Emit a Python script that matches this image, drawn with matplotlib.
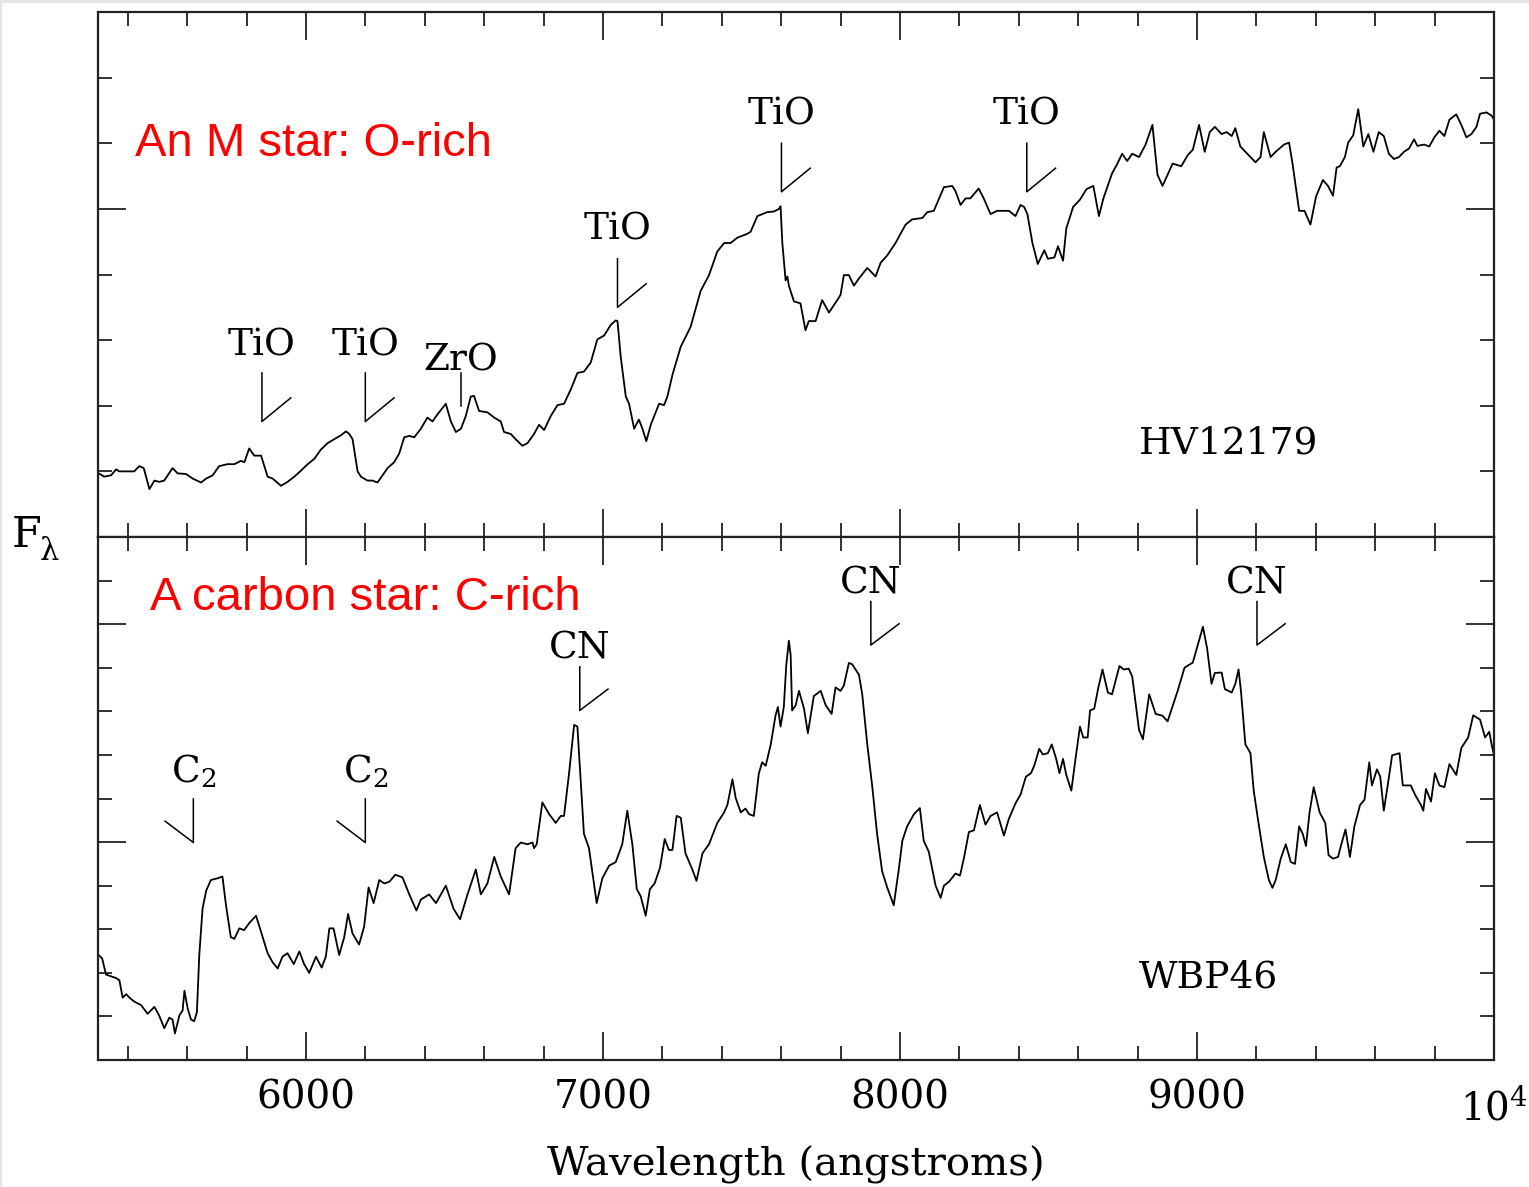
import matplotlib
matplotlib.use("Agg")
import matplotlib.pyplot as plt
from matplotlib.ticker import MultipleLocator, FixedLocator, FixedFormatter
from matplotlib.patches import Rectangle

plt.rcParams["font.family"] = "DejaVu Serif"
plt.rcParams["mathtext.fontset"] = "dejavuserif"

# --- HV12179 (M star), wavelength in angstroms, relative flux ---
m_wave = [5302, 5321, 5344, 5361, 5372, 5422, 5439, 5454, 5473, 5490, 5506, 5523,
          5551, 5568, 5596, 5619, 5647, 5664, 5686, 5708, 5736, 5759, 5781, 5793,
          5809, 5826, 5849, 5871, 5888, 5916, 5938, 5961, 5983, 6006, 6028, 6050,
          6073, 6095, 6118, 6135, 6146, 6157, 6174, 6185, 6207, 6224, 6241, 6258,
          6275, 6297, 6314, 6331, 6348, 6365, 6387, 6409, 6426, 6443, 6471, 6488,
          6505, 6522, 6538, 6555, 6566, 6583, 6611, 6634, 6656, 6667, 6690, 6706,
          6729, 6746, 6768, 6785, 6802, 6824, 6847, 6869, 6892, 6914, 6936, 6959,
          6981, 7004, 7026, 7043, 7049, 7060, 7077, 7088, 7105, 7121, 7133, 7146,
          7161, 7189, 7206, 7217, 7234, 7262, 7295, 7329, 7357, 7385, 7408, 7430,
          7452, 7486, 7497, 7520, 7553, 7576, 7593, 7598, 7604, 7615, 7621, 7626,
          7643, 7665, 7682, 7693, 7716, 7738, 7761, 7789, 7800, 7811, 7828, 7845,
          7862, 7890, 7918, 7935, 7957, 7985, 8019, 8041, 8075, 8092, 8114, 8148,
          8176, 8187, 8204, 8221, 8237, 8265, 8282, 8305, 8327, 8367, 8389, 8406,
          8418, 8429, 8446, 8464, 8486, 8498, 8520, 8532, 8549, 8560, 8583, 8606,
          8628, 8651, 8670, 8685, 8714, 8731, 8748, 8765, 8782, 8805, 8827, 8850,
          8867, 8884, 8918, 8947, 8969, 8986, 9007, 9026, 9043, 9060, 9083, 9100,
          9117, 9129, 9146, 9180, 9197, 9214, 9225, 9248, 9265, 9293, 9310, 9322,
          9344, 9362, 9382, 9401, 9424, 9441, 9458, 9470, 9481, 9498, 9509, 9526,
          9543, 9560, 9577, 9594, 9612, 9629, 9646, 9663, 9680, 9697, 9714, 9731,
          9742, 9765, 9782, 9799, 9816, 9833, 9850, 9873, 9890, 9907, 9924, 9941,
          9953, 9975, 9992, 10000]
m_flux = [0.97, 0.92, 0.94, 1.03, 1.00, 1.00, 1.08, 1.05, 0.73, 0.86, 0.84, 0.86,
          1.05, 0.97, 0.96, 0.89, 0.83, 0.89, 0.94, 1.08, 1.11, 1.11, 1.16, 1.14,
          1.35, 1.24, 1.24, 0.92, 0.89, 0.78, 0.84, 0.92, 1.01, 1.11, 1.19, 1.33,
          1.43, 1.49, 1.55, 1.61, 1.57, 1.49, 1.00, 0.92, 0.86, 0.86, 0.83, 0.94,
          1.05, 1.14, 1.27, 1.52, 1.54, 1.52, 1.65, 1.82, 1.76, 1.87, 2.03, 1.76,
          1.60, 1.65, 1.84, 2.14, 2.15, 1.92, 1.90, 1.82, 1.76, 1.60, 1.57, 1.49,
          1.39, 1.43, 1.57, 1.71, 1.63, 1.84, 2.01, 2.03, 2.25, 2.50, 2.52, 2.66,
          3.01, 3.07, 3.23, 3.30, 3.29, 2.74, 2.14, 2.03, 1.65, 1.79, 1.65, 1.46,
          1.71, 2.03, 2.01, 2.14, 2.47, 2.90, 3.20, 3.75, 3.99, 4.35, 4.48, 4.48,
          4.56, 4.62, 4.65, 4.89, 4.95, 4.96, 5.00, 5.04, 4.48, 3.91, 3.97, 3.83,
          3.59, 3.56, 3.15, 3.29, 3.29, 3.61, 3.42, 3.61, 3.69, 3.99, 3.99, 3.83,
          3.94, 4.10, 3.97, 4.18, 4.29, 4.48, 4.76, 4.84, 4.86, 4.95, 4.97, 5.33,
          5.35, 5.27, 5.06, 5.16, 5.16, 5.31, 5.16, 4.92, 4.97, 4.97, 4.89, 5.06,
          5.03, 4.92, 4.48, 4.16, 4.37, 4.24, 4.26, 4.43, 4.21, 4.70, 5.03, 5.14,
          5.30, 5.35, 4.89, 5.16, 5.54, 5.68, 5.84, 5.73, 5.84, 5.79, 5.98, 6.28,
          5.52, 5.35, 5.69, 5.65, 5.82, 5.90, 6.28, 5.87, 6.17, 6.25, 6.14, 6.17,
          6.11, 6.23, 5.95, 5.79, 5.71, 5.79, 6.17, 5.79, 5.87, 5.98, 6.01, 5.68,
          4.97, 4.97, 4.76, 5.19, 5.44, 5.35, 5.20, 5.63, 5.65, 5.79, 6.01, 6.12,
          6.52, 5.95, 6.14, 5.87, 6.17, 6.11, 5.84, 5.76, 5.79, 5.87, 5.92, 6.06,
          5.96, 5.98, 5.95, 6.09, 6.19, 6.11, 6.36, 6.44, 6.28, 6.09, 6.14, 6.25,
          6.45, 6.47, 6.42, 6.36]

# --- WBP46 (carbon star) ---
c_wave = [5302, 5314, 5327, 5344, 5361, 5372, 5383, 5395, 5406, 5422, 5445, 5467,
          5490, 5506, 5523, 5540, 5551, 5559, 5574, 5585, 5591, 5602, 5613, 5624,
          5633, 5641, 5647, 5652, 5664, 5680, 5703, 5719, 5731, 5747, 5759, 5776,
          5792, 5809, 5832, 5849, 5871, 5888, 5905, 5921, 5938, 5959, 5978, 5994,
          6011, 6034, 6053, 6067, 6079, 6093, 6112, 6129, 6142, 6157, 6179, 6196,
          6211, 6228, 6247, 6264, 6281, 6301, 6325, 6348, 6372, 6387, 6415, 6438,
          6471, 6497, 6519, 6544, 6572, 6589, 6611, 6634, 6656, 6684, 6706, 6723,
          6746, 6763, 6768, 6777, 6796, 6819, 6841, 6858, 6869, 6886, 6903, 6914,
          6936, 6953, 6979, 6998, 7021, 7043, 7065, 7082, 7099, 7114, 7127, 7144,
          7158, 7174, 7192, 7208, 7222, 7234, 7248, 7262, 7278, 7301, 7315, 7335,
          7357, 7385, 7408, 7419, 7436, 7447, 7464, 7480, 7492, 7508, 7525, 7536,
          7548, 7565, 7581, 7589, 7598, 7609, 7617, 7626, 7632, 7637, 7649, 7660,
          7677, 7690, 7710, 7733, 7750, 7770, 7783, 7800, 7811, 7828, 7839, 7862,
          7873, 7890, 7907, 7923, 7940, 7957, 7979, 7996, 8008, 8024, 8047, 8067,
          8080, 8097, 8120, 8137, 8148, 8165, 8187, 8202, 8215, 8232, 8249, 8269,
          8288, 8305, 8327, 8350, 8366, 8389, 8406, 8424, 8441, 8452, 8469, 8481,
          8498, 8511, 8526, 8537, 8549, 8560, 8577, 8591, 8606, 8617, 8632, 8640,
          8654, 8668, 8682, 8700, 8714, 8739, 8753, 8770, 8782, 8805, 8818, 8839,
          8861, 8884, 8901, 8935, 8958, 8986, 9003, 9020, 9034, 9049, 9060, 9083,
          9094, 9117, 9129, 9140, 9148, 9163, 9180, 9191, 9208, 9225, 9242, 9254,
          9265, 9282, 9299, 9316, 9330, 9344, 9356, 9367, 9379, 9393, 9413, 9432,
          9443, 9458, 9475, 9486, 9500, 9515, 9530, 9549, 9564, 9580, 9589, 9606,
          9617, 9629, 9643, 9657, 9682, 9693, 9720, 9734, 9754, 9762, 9771, 9788,
          9801, 9816, 9833, 9850, 9873, 9890, 9913, 9930, 9953, 9970, 9984, 9992,
          10000]
c_flux = [2.41, 2.33, 1.96, 1.92, 1.88, 1.83, 1.43, 1.51, 1.43, 1.34, 1.26, 1.06,
          1.22, 1.02, 0.73, 0.97, 0.93, 0.61, 1.02, 1.14, 1.59, 1.18, 0.93, 0.89,
          1.10, 2.41, 2.98, 3.47, 3.88, 4.13, 4.17, 4.21, 3.55, 2.82, 2.78, 3.02,
          2.98, 3.14, 3.31, 2.94, 2.45, 2.24, 2.10, 2.37, 2.45, 2.20, 2.49, 2.20,
          2.00, 2.37, 2.12, 2.37, 3.02, 3.02, 2.41, 2.82, 3.35, 2.90, 2.65, 3.06,
          3.96, 3.60, 4.13, 4.05, 4.09, 4.25, 4.19, 3.80, 3.43, 3.68, 3.80, 3.60,
          4.00, 3.47, 3.23, 3.80, 4.37, 3.80, 4.05, 4.66, 4.21, 3.80, 4.86, 4.99,
          4.95, 4.99, 4.86, 4.95, 5.91, 5.64, 5.44, 5.60, 5.60, 6.58, 7.69, 7.65,
          5.19, 4.86, 3.60, 4.17, 4.46, 4.54, 4.95, 5.72, 4.95, 3.92, 3.76, 3.31,
          3.92, 4.05, 4.41, 5.07, 4.82, 4.82, 5.60, 5.56, 4.74, 4.37, 4.11, 4.74,
          4.95, 5.44, 5.68, 5.85, 6.44, 6.01, 5.68, 5.77, 5.64, 5.60, 6.58, 6.83,
          6.75, 7.24, 7.90, 8.10, 7.65, 8.10, 9.04, 9.62, 9.29, 8.02, 8.14, 8.47,
          8.06, 7.50, 8.35, 8.47, 8.14, 7.94, 8.55, 8.47, 8.59, 9.11, 9.08, 8.84,
          8.39, 7.24, 6.26, 5.19, 4.33, 3.96, 3.55, 4.37, 5.03, 5.36, 5.64, 5.78,
          5.03, 4.78, 4.00, 3.72, 4.00, 4.09, 4.28, 4.23, 4.62, 5.23, 5.27, 5.85,
          5.40, 5.60, 5.68, 5.15, 5.52, 5.89, 6.09, 6.50, 6.58, 6.75, 7.14, 7.01,
          7.04, 7.24, 6.91, 6.58, 6.91, 6.54, 6.18, 6.91, 7.65, 7.40, 7.40, 8.02,
          8.06, 8.55, 8.96, 8.43, 8.39, 9.04, 8.96, 8.98, 8.80, 7.57, 7.36, 8.39,
          7.94, 7.90, 7.77, 8.47, 9.00, 9.12, 9.53, 9.94, 9.45, 8.63, 8.88, 8.89,
          8.51, 8.43, 8.63, 8.96, 8.47, 7.24, 7.04, 6.18, 5.40, 4.66, 4.13, 3.95,
          4.13, 4.62, 4.95, 4.54, 4.50, 5.36, 5.19, 4.91, 5.68, 6.26, 5.68, 5.44,
          4.70, 4.62, 4.66, 4.95, 5.29, 4.66, 5.36, 5.85, 5.97, 6.83, 6.30, 6.67,
          6.50, 5.72, 6.34, 6.99, 7.04, 6.30, 6.30, 6.09, 5.85, 5.72, 6.22, 5.93,
          6.58, 6.30, 6.26, 6.79, 6.54, 7.16, 7.40, 7.91, 7.81, 7.40, 7.53, 7.24,
          6.99]

# --- molecular band identifications ---
m_band_names = ["TiO", "TiO", "ZrO", "TiO", "TiO", "TiO"]
m_band_wave = [5852, 6200, 6522, 7049, 7601, 8427]
m_band_tip = [1.76, 1.76, 2.00, 3.50, 5.26, 5.26]
m_band_len = [0.74, 0.74, 0.50, 0.74, 0.74, 0.74]
m_band_tail = [1, 1, 0, 1, 1, 1]
m_band_label_y = [2.77, 2.77, 2.53, 4.53, 6.28, 6.28]

c_band_names = ["C$_2$", "C$_2$", "CN", "CN", "CN"]
c_band_wave = [5621, 6200, 6922, 7902, 9202]
c_band_tip = [4.99, 4.99, 8.02, 9.52, 9.52]
c_band_len = [1.0, 1.0, 1.0, 1.0, 1.0]
c_band_tail = [-1, -1, 1, 1, 1]
c_band_label_y = [6.38, 6.38, 9.21, 10.70, 10.70]

xticks = [6000, 7000, 8000, 9000, 10000]
xtick_labels = ["6000", "7000", "8000", "9000", ""]

W, H = 1529, 1187
fig = plt.figure(figsize=(W / 100, H / 100), dpi=100)
ax_top = fig.add_axes([98 / W, 1 - 537 / H, 1396 / W, 525 / H])
ax_bot = fig.add_axes([98 / W, 1 - 1060 / H, 1396 / W, 523 / H])

# faint frame along the left and top edges
fig.patches.append(Rectangle((0, 0), 2 / W, 1, transform=fig.transFigure,
                             facecolor="#e4e4e4", edgecolor="none"))
fig.patches.append(Rectangle((0, 1 - 3 / H), 1, 3 / H, transform=fig.transFigure,
                             facecolor="#e4e4e4", edgecolor="none"))


def style_axes(ax, ymax):
    ax.set_xlim(5300, 10000)
    ax.set_ylim(0, ymax)
    ax.xaxis.set_major_locator(FixedLocator(xticks))
    ax.xaxis.set_minor_locator(MultipleLocator(200))
    ax.yaxis.set_major_locator(MultipleLocator(5))
    ax.yaxis.set_minor_locator(MultipleLocator(1))
    ax.tick_params(which="both", direction="in", top=True, right=True,
                   width=1.3, color="#222222")
    ax.tick_params(which="major", length=20)
    ax.tick_params(which="minor", length=10)
    ax.set_yticklabels([])
    for sp in ax.spines.values():
        sp.set_linewidth(1.6)
        sp.set_color("#222222")


def mark_bands(ax, names, wave, tip, length, tail, label_y, dx, dy):
    for name, x, y0, ln, t, ly in zip(names, wave, tip, length, tail, label_y):
        ax.plot([x, x, x + t * dx], [y0 + ln, y0, y0 + abs(t) * dy],
                color="black", lw=1.1)
        ax.text(x, ly, name, ha="center", va="baseline", fontsize=27)


style_axes(ax_top, 8)
style_axes(ax_bot, 12)
ax_top.set_xticklabels([])

ax_top.plot(m_wave, m_flux, color="black", lw=1.3)
ax_bot.plot(c_wave, c_flux, color="black", lw=1.3)

mark_bands(ax_top, m_band_names, m_band_wave, m_band_tip, m_band_len,
           m_band_tail, m_band_label_y, 97, 0.36)
mark_bands(ax_bot, c_band_names, c_band_wave, c_band_tip, c_band_len,
           c_band_tail, c_band_label_y, 95, 0.49)

ax_top.text(8804, 1.27, "HV12179", ha="left", va="baseline", fontsize=27)
ax_bot.text(8804, 1.67, "WBP46", ha="left", va="baseline", fontsize=27)

ax_top.text(0.0265, 0.725, "An M star: O-rich", transform=ax_top.transAxes,
            color="red", fontsize=34, family="Liberation Sans", va="baseline")
ax_bot.text(0.0372, 0.86, "A carbon star: C-rich", transform=ax_bot.transAxes,
            color="red", fontsize=34, family="Liberation Sans", va="baseline")

ax_bot.xaxis.set_major_formatter(FixedFormatter(xtick_labels))
ax_bot.tick_params(axis="x", which="major", labelsize=28, pad=14)
# the 10^4 label sits a little lower than the plain numbers
ax_bot.annotate("$10^4$", xy=(10000, 0), xycoords=("data", "axes fraction"),
                xytext=(0, -20), textcoords="offset points",
                ha="center", va="top", fontsize=28, annotation_clip=False)
ax_bot.set_xlabel("Wavelength (angstroms)", fontsize=29)
ax_bot.xaxis.set_label_coords(0.5, -0.163)

fig.text(12 / W, 1 - 547 / H, "F", fontsize=31, va="baseline", ha="left")
fig.text(40 / W, 1 - 560 / H, "λ", fontsize=22, va="baseline", ha="left")

fig.savefig("out.png", dpi=100, facecolor="white")
